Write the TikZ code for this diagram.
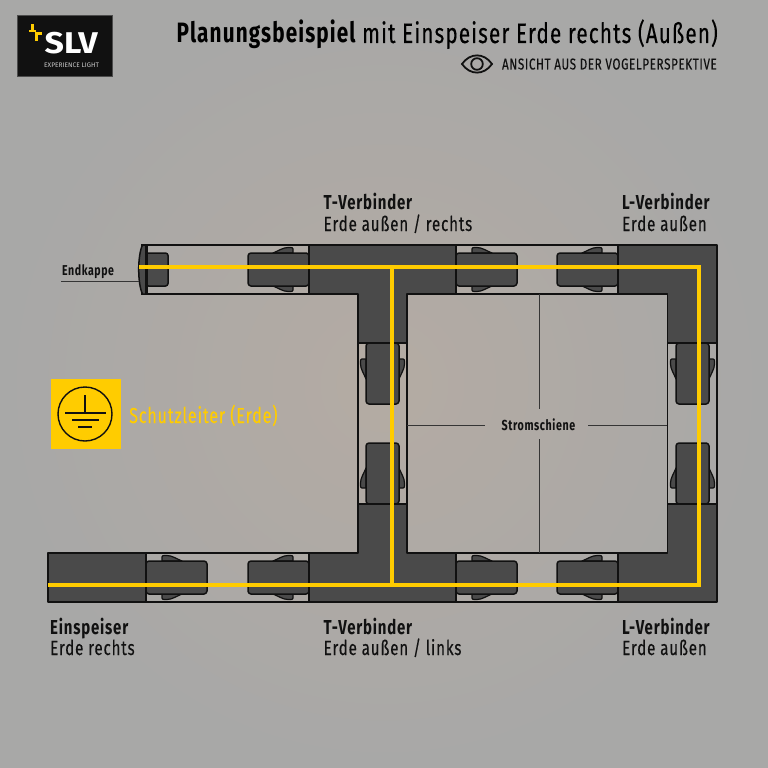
\documentclass[tikz,border=0pt]{standalone}
\usepackage{fontspec}
\newfontfamily\cond[FakeStretch=0.74,LetterSpace=4,UprightFeatures={FakeBold=0.25}]{Fira Sans}
\setsansfont{Fira Sans}
\definecolor{ink}{HTML}{111111}
\definecolor{dark}{HTML}{4A4A4A}
\definecolor{gold}{HTML}{FFCC00}
\definecolor{bgo}{HTML}{A8A8A7}
\definecolor{bgi}{HTML}{B4ABA3}
\tikzset{
  part/.style={fill=dark,draw=ink,line width=1.5pt,line join=round},
  tabpart/.style={fill=dark,draw=ink,line width=1.2pt,line join=round},
  rail/.style={draw=ink,line width=1.3pt},
  earth/.style={draw=gold,line width=3.2pt,line join=miter},
  thin lead/.style={draw=ink!85,line width=.9pt},
  lab/.style={anchor=base west,inner sep=0pt,text=ink,font=\cond\fontsize{20.5}{22}\selectfont},
  labb/.style={lab,font=\cond\bfseries\fontsize{20.2}{22}\selectfont},
  hconn/.pic={
    \path[tabpart] (16,-16.5) -- (16,-20.5) .. controls (16,-21.5) and (17,-22) .. (18,-22)
       -- (21,-22) .. controls (26,-22) and (31,-18.5) .. (36,-16.5) -- cycle;
    \path[tabpart] (16,16.5) -- (16,20.5) .. controls (16,21.5) and (17,22) .. (18,22)
       -- (21,22) .. controls (26,22) and (31,18.5) .. (36,16.5) -- cycle;
    \path[part,rounded corners=3pt] (0,-16.5) -- (61,-16.5) -- (61,16.5) -- (0,16.5) -- cycle;
  }
}
\begin{document}
\begin{tikzpicture}[x=1pt,y=-1pt]
\useasboundingbox (0,0) rectangle (768,768);
\shade[inner color=bgi,outer color=bgo] (0,0) rectangle (768,768);

% logo
\fill[ink,draw=black!70,line width=.5pt] (17.5,15.5) rectangle (112.5,76.5);
\draw[gold,line width=2.6pt] (32.5,24.5) -- (32.5,31) (29,31) -- (36,31);
\draw[gold,line width=2.6pt] (36.5,41) -- (36.5,33.5) (35,33.5) -- (42,33.5);
\node[anchor=base west,inner sep=0pt,xscale=1.13,text=white,font=\sffamily\bfseries\fontsize{30}{30}\selectfont] (slv) at (44.5,54) {SLV};
\node[anchor=base west,inner sep=0pt,text=white!80!black,font=\sffamily\fontsize{6.6}{7}\selectfont] (exp) at (44,67) {EXPERIENCE LIGHT};

% header
\node[anchor=base east,inner sep=0pt,text=black,font=\cond\fontsize{28}{30}\selectfont] (title) at (718,43) {{\bfseries Planungsbeispiel} mit Einspeiser Erde rechts (Außen)};
\node[anchor=base east,inner sep=0pt,text=ink,font=\cond\fontsize{15.7}{16}\selectfont] (sub) at (717,69.5) {ANSICHT AUS DER VOGELPERSPEKTIVE};
\draw[ink,line width=1.8pt] (462,64) .. controls (470,52.5) and (484,52.5) .. (492,64) .. controls (484,75.5) and (470,75.5) .. (462,64) -- cycle;
\draw[ink,line width=1.8pt] (477,64) circle (5.8);

% rails
\draw[rail] (141,245) -- (618,245) (141,294) -- (358,294) (407,294) -- (667.5,294);
\draw[rail] (146,553) -- (358,553) (407,553) -- (667.5,553) (146,602) -- (618,602);
\draw[rail] (358,294) -- (358,553) (407,294) -- (407,553) (667.5,294) -- (667.5,553) (717,343) -- (717,504);

% connectors
\foreach \p in {(146,577.5),(456,577.5),(456,269.5)} \pic at \p {hconn};
\foreach \p in {(309,577.5),(618,577.5),(309,269.5),(618,269.5)} \pic[xscale=-1] at \p {hconn};
\foreach \p in {(382.5,343),(692.5,343)} \pic[rotate=-90] at \p {hconn};
\foreach \p in {(382.5,504),(692.5,504)} \pic[rotate=90] at \p {hconn};

% end cap
\path[part,rounded corners=2.5pt] (146,253) -- (168,253) -- (168,286) -- (146,286) -- cycle;
\path[part] (146.5,245) -- (142.5,245) .. controls (140,250) and (138.7,260) .. (138.7,269.5) .. controls (138.7,279) and (140,289) .. (142.5,294) -- (146.5,294) -- cycle;
\draw[ink,line width=2.2pt] (146.5,245) -- (146.5,294);

% fittings
\path[part] (309,245) -- (456,245) -- (456,294) -- (407,294) -- (407,343) -- (358,343) -- (358,294) -- (309,294) -- cycle;
\path[part] (309,602) -- (456,602) -- (456,553) -- (407,553) -- (407,504) -- (358,504) -- (358,553) -- (309,553) -- cycle;
\path[part] (618,245) -- (717,245) -- (717,343) -- (667.5,343) -- (667.5,294) -- (618,294) -- cycle;
\path[part] (618,602) -- (717,602) -- (717,504) -- (667.5,504) -- (667.5,553) -- (618,553) -- cycle;
\path[part] (48,553) rectangle (146,602);

% earth conductor
\draw[earth] (139,267) -- (699,267) -- (699,585) -- (48,585);
\draw[earth] (392,267) -- (392,585);

% track cross
\node[anchor=center,inner sep=0pt,text=ink,font=\cond\bfseries\fontsize{14.5}{15}\selectfont] (strom) at (538.5,425) {Stromschiene};
\coordinate (ct) at (539,294); \coordinate (ctb) at (539,409);
\coordinate (cb) at (539,553); \coordinate (cbb) at (539,439);
\coordinate (cl) at (407,425); \coordinate (clb) at (485,425);
\coordinate (cr) at (667,425); \coordinate (crb) at (588,425);
\draw[thin lead] (ct) -- (ctb) (cb) -- (cbb) (cl) -- (clb) (cr) -- (crb);

% end cap label
\node[anchor=base west,inner sep=0pt,text=ink,font=\cond\bfseries\fontsize{14.3}{15}\selectfont] (endk) at (62,275) {Endkappe};
\coordinate (ek1) at (61,281); \coordinate (ek2) at (139,281);
\draw[thin lead] (ek1) -- (ek2);

% earth symbol
\fill[gold] (51,379) rectangle (121,449);
\draw[ink,line width=1.4pt] (85,414) circle (27);
\draw[ink,line width=1.4pt] (85,395) -- (85,413) (65,413) -- (106,413) (72,420) -- (99,420) (78,427) -- (92,427);
\node[anchor=base west,inner sep=0pt,text=gold,font=\cond\fontsize{21.7}{24}\selectfont] (pe) at (129,423) {Schutzleiter (Erde)};

% labels
\node[labb] (t1) at (323.5,209) {T-Verbinder};
\node[lab] (t1b) at (323.5,231) {Erde außen / rechts};
\node[labb] (l1) at (622,209) {L-Verbinder};
\node[lab] (l1b) at (622,231) {Erde außen};
\node[labb] (e1) at (50,634) {Einspeiser};
\node[lab] (e1b) at (50,655) {Erde rechts};
\node[labb] (t2) at (323.5,634) {T-Verbinder};
\node[lab] (t2b) at (323.5,655) {Erde außen / links};
\node[labb] (l2) at (622,634) {L-Verbinder};
\node[lab] (l2b) at (622,655) {Erde außen};
\end{tikzpicture}
\end{document}
